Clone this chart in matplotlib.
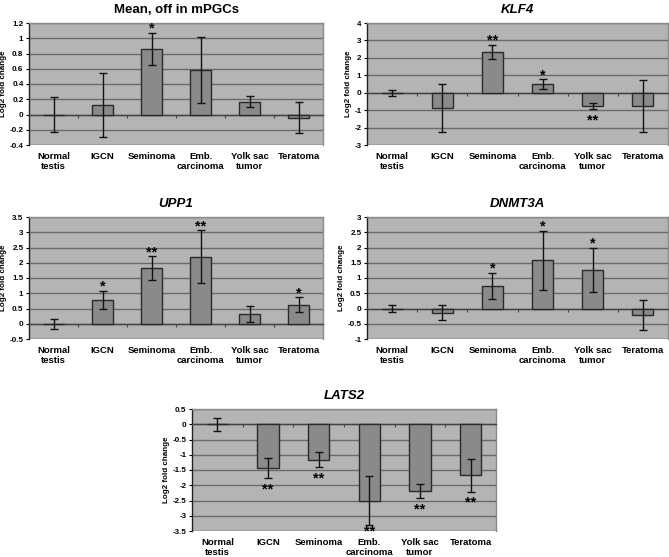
import matplotlib
matplotlib.use("Agg")
import matplotlib.pyplot as plt
import matplotlib.transforms as mtrans
import numpy as np

plt.rcParams['font.family'] = ['Liberation Sans', 'DejaVu Sans']
plt.rcParams['font.weight'] = 'bold'

categories = ["Normal\ntestis", "IGCN", "Seminoma", "Emb.\ncarcinoma", "Yolk sac\ntumor", "Teratoma"]

mean_vals = [0.0, 0.12, 0.86, 0.58, 0.17, -0.04]
mean_err = [0.23, 0.42, 0.21, 0.43, 0.075, 0.20]
mean_sig = ["", "", "*", "", "", ""]

klf4_vals = [0.0, -0.89, 2.34, 0.50, -0.76, -0.76]
klf4_err = [0.17, 1.38, 0.42, 0.26, 0.19, 1.49]
klf4_sig = ["", "", "**", "*", "**", ""]

upp1_vals = [0.0, 0.77, 1.83, 2.19, 0.31, 0.63]
upp1_err = [0.17, 0.30, 0.38, 0.87, 0.26, 0.24]
upp1_sig = ["", "*", "**", "**", "", "*"]

dnmt3a_vals = [0.0, -0.14, 0.73, 1.58, 1.27, -0.21]
dnmt3a_err = [0.13, 0.24, 0.43, 0.97, 0.73, 0.49]
dnmt3a_sig = ["", "", "*", "*", "*", ""]

lats2_vals = [0.0, -1.44, -1.16, -2.50, -2.19, -1.68]
lats2_err = [0.21, 0.32, 0.25, 0.81, 0.24, 0.53]
lats2_sig = ["", "**", "**", "**", "**", "**"]

W, H = 669, 557
fig = plt.figure(figsize=(W / 100, H / 100), dpi=100)

BG = "#b4b4b4"
BAR = "#8a8a8a"
GRID = "#6a6a6a"


def panel(px, title, italic, vals, err, sig, ylim, ystep):
    x0, y0, x1, y1 = px
    ax = fig.add_axes([x0 / W, 1 - y1 / H, (x1 - x0) / W, (y1 - y0) / H])
    ax.set_facecolor(BG)
    n = len(vals)
    x = np.arange(n)
    ax.bar(x, vals, width=0.42, color=BAR, edgecolor="#2a2a2a", linewidth=1.0, zorder=3)
    ax.errorbar(x, vals, yerr=err, fmt="none", ecolor="#111111", elinewidth=1.0,
                capsize=3, capthick=1.0, zorder=4)
    ax.set_xlim(-0.5, n - 0.5)
    ax.set_ylim(*ylim)
    ticks = np.round(np.arange(ylim[0], ylim[1] + ystep / 2, ystep), 2)
    ax.set_yticks(ticks)
    ax.set_yticklabels([("%g" % t) for t in ticks], fontsize=5.8, fontweight="bold")
    ax.yaxis.grid(True, color=GRID, linewidth=1.0, zorder=0)
    ax.set_axisbelow(True)
    ax.tick_params(axis="y", length=2, width=0.8, pad=2)
    ax.spines["bottom"].set_position(("data", 0))
    ax.spines["bottom"].set_color("#444444")
    ax.spines["bottom"].set_linewidth(1.0)
    ax.set_xticks(np.arange(0.5, n - 0.5, 1.0))
    ax.set_xticklabels([])
    ax.tick_params(axis="x", length=2.5, width=0.8, direction="out", color="#444444")
    ax.spines["left"].set_color("#222222")
    ax.spines["left"].set_linewidth(1.0)
    for s in ("top", "right"):
        ax.spines[s].set_color("#8a8a8a")
        ax.spines[s].set_linewidth(1.0)
    ax.axhline(ylim[0], color="#8a8a8a", linewidth=1.0, zorder=1)
    ax.set_ylabel("Log2 fold change", fontsize=5.8, fontweight="bold", labelpad=2)
    trans = mtrans.blended_transform_factory(ax.transData, ax.transAxes)
    for xi, lab in zip(x, categories):
        ax.text(xi, -0.055, lab, transform=trans, ha="center", va="top",
                fontsize=6.8, fontweight="bold", linespacing=1.15)
    rng = ylim[1] - ylim[0]
    for xi, v, e, s in zip(x, vals, err, sig):
        if not s:
            continue
        if v >= 0:
            ax.annotate(s, (xi, v + e), xytext=(0, -2), textcoords="offset points",
                        ha="center", va="bottom", fontsize=10.5, fontweight="bold", zorder=5)
        elif v - e < ylim[0] + 0.12 * rng:
            ax.annotate(s, (xi, ylim[0]), xytext=(0, -3), textcoords="offset points",
                        ha="center", va="baseline", fontsize=10.5, fontweight="bold", zorder=5)
        else:
            ax.annotate(s, (xi, v - e), xytext=(0, -3), textcoords="offset points",
                        ha="center", va="top", fontsize=10.5, fontweight="bold", zorder=5)
    ax.set_title(title, fontsize=9.5, fontweight="bold",
                 fontstyle="italic" if italic else "normal", pad=7)
    return ax


panel((29, 23, 323, 145), "Mean, off in mPGCs", False, mean_vals, mean_err, mean_sig, (-0.4, 1.2), 0.2)
panel((367, 23, 668, 145), "KLF4", True, klf4_vals, klf4_err, klf4_sig, (-3, 4), 1)
panel((29, 217, 323, 339), "UPP1", True, upp1_vals, upp1_err, upp1_sig, (-0.5, 3.5), 0.5)
panel((367, 217, 668, 339), "DNMT3A", True, dnmt3a_vals, dnmt3a_err, dnmt3a_sig, (-1, 3), 0.5)
panel((192, 409, 496, 531), "LATS2", True, lats2_vals, lats2_err, lats2_sig, (-3.5, 0.5), 0.5)

fig.savefig("out.png", dpi=100, facecolor="white")
